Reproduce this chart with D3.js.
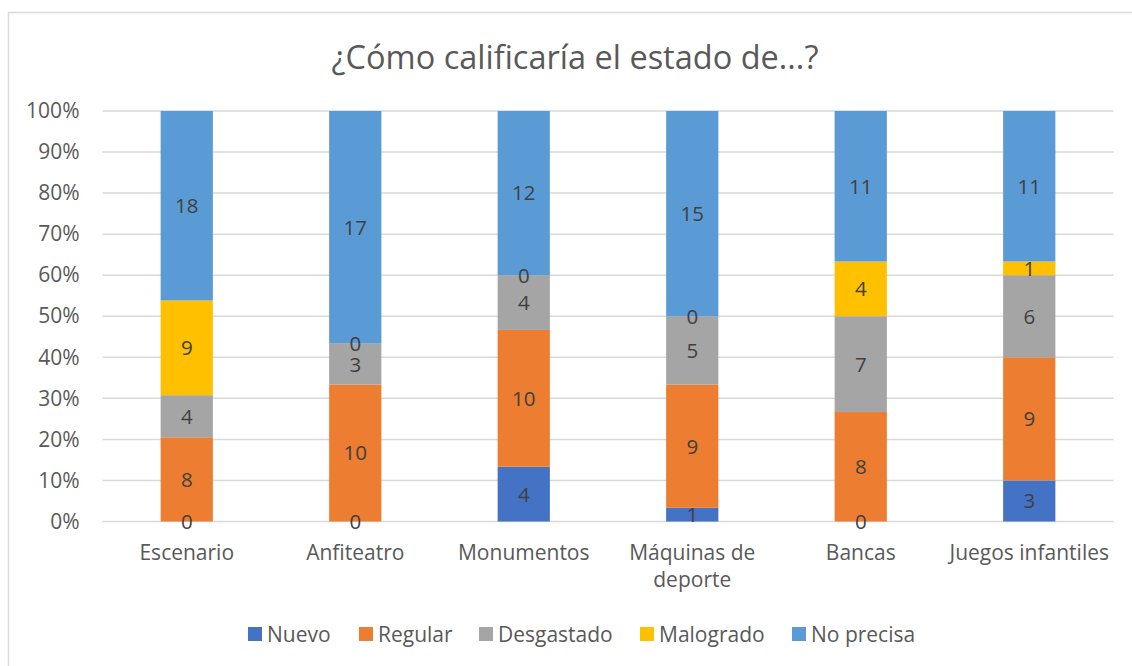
<!DOCTYPE html>
<html><head><meta charset="utf-8">
<script src="https://cdn.jsdelivr.net/npm/d3@7"></script>
<style>body{margin:0;background:#fff;} text{font-family:"Open Sans", sans-serif;}</style>
</head><body><svg id="c" width="1132" height="666"></svg>
<script>
const categories = ["Escenario","Anfiteatro","Monumentos","Máquinas de deporte","Bancas","Juegos infantiles"];
const seriesNames = ["Nuevo","Regular","Desgastado","Malogrado","No precisa"];
const nuevo = [0,0,4,1,0,3];
const regular = [8,10,10,9,8,9];
const desgastado = [4,3,4,5,7,6];
const malogrado = [9,0,0,0,4,1];
const noPrecisa = [18,17,12,15,11,11];
const yTicks = [0,0.1,0.2,0.3,0.4,0.5,0.6,0.7,0.8,0.9,1];
const colors = ["#4472C4","#ED7D31","#A5A5A5","#FFC000","#5B9BD5"];
const title = "¿Cómo calificaría el estado de...?";

const FONT = "'Open Sans', sans-serif";
const seriesVals = [nuevo, regular, desgastado, malogrado, noPrecisa];
const rows = categories.map((c,i)=>{const o={cat:c}; seriesNames.forEach((s,j)=>o[s]=seriesVals[j][i]); return o;});
const stack = d3.stack().keys(seriesNames).offset(d3.stackOffsetExpand)(rows);

const svg = d3.select("#c");
svg.append("rect").attr("x",8.5).attr("y",12.5).attr("width",1140).attr("height",670)
  .attr("fill","#fff").attr("stroke","#d9d9d9").attr("stroke-width",1.5);

const x = d3.scaleBand().domain(categories).range([102.5,1113.5]).paddingInner(0.69).paddingOuter(0.345);
const y = d3.scaleLinear().domain([0,1]).range([521.5,111]);

svg.append("text").attr("x",575).attr("y",69).attr("text-anchor","middle")
  .attr("font-size",32.5).attr("fill","#595959").text(title);

const g = svg.append("g");
g.selectAll("line.grid").data(yTicks).join("line").attr("class","grid")
  .attr("x1",102.5).attr("x2",1113.5).attr("y1",d=>y(d)).attr("y2",d=>y(d))
  .attr("stroke","#d9d9d9").attr("stroke-width",1.5);

const yAxis = d3.axisLeft(y).tickValues(yTicks).tickFormat(d3.format(".0%")).tickSize(0).tickPadding(23);
const ya = svg.append("g").attr("transform","translate(102.5,0)").call(yAxis);
ya.select(".domain").remove();
ya.selectAll("text").attr("font-size",21).attr("fill","#595959").style("font-family",FONT);

stack.forEach((s,j)=>{
  g.selectAll(null).data(s).join("rect")
    .attr("x",d=>x(d.data.cat)).attr("width",x.bandwidth())
    .attr("y",d=>y(d[1])).attr("height",d=>y(d[0])-y(d[1]))
    .attr("fill",colors[j]);
});
stack.forEach((s,j)=>{
  g.selectAll(null).data(s).join("text")
    .attr("x",d=>x(d.data.cat)+x.bandwidth()/2)
    .attr("y",d=>(y(d[0])+y(d[1]))/2).attr("dy","0.36em")
    .attr("text-anchor","middle").attr("font-size",20.5).attr("fill","#404040")
    .text(d=>d.data[seriesNames[j]]);
});

const xAxis = d3.axisBottom(x).tickSize(0).tickPadding(0);
const xa = svg.append("g").attr("transform","translate(0,521.5)").call(xAxis);
xa.select(".domain").remove();
xa.selectAll("text").attr("font-size",21).attr("fill","#595959").style("font-family",FONT)
  .attr("y",38.5).attr("dy",null)
  .each(function(d){
    const t=d3.select(this);
    if(d==="Máquinas de deporte"){
      t.text(null);
      t.append("tspan").attr("x",0).attr("dy",0).text("Máquinas de");
      t.append("tspan").attr("x",0).attr("dy",27).text("deporte");
    }
  });

const legX = [248,359,479,640,792];
const lg = svg.append("g");
seriesNames.forEach((s,j)=>{
  lg.append("rect").attr("x",legX[j]).attr("y",627).attr("width",14).attr("height",14).attr("fill",colors[j]);
  lg.append("text").attr("x",legX[j]+19).attr("y",642).attr("font-size",21).attr("fill","#595959").text(s);
});
</script></body></html>
